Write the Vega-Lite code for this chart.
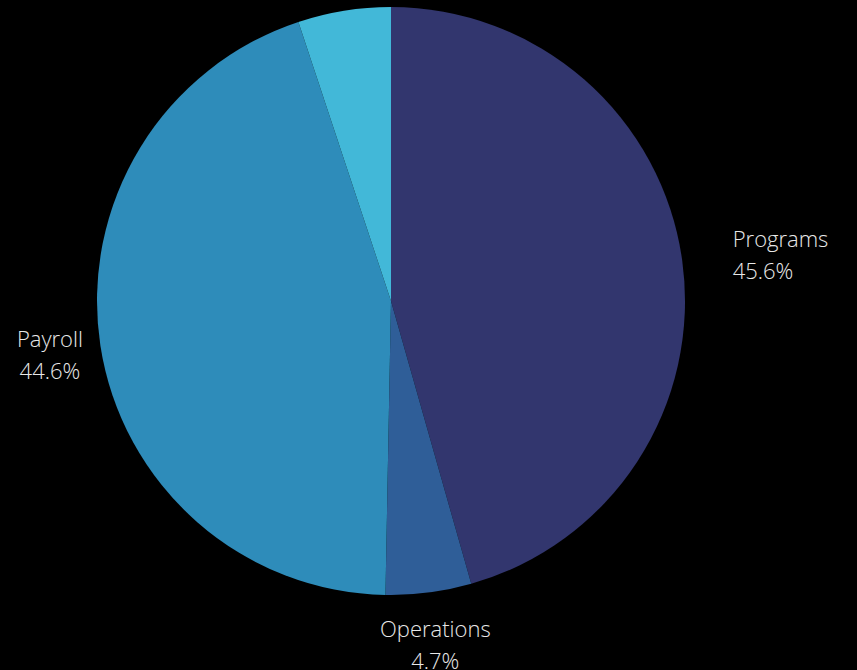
{
  "$schema": "https://vega.github.io/schema/vega-lite/v6.json",
  "width": 782,
  "height": 602,
  "autosize": {"type": "none"},
  "padding": {"left": 0, "top": 0, "right": 75, "bottom": 68},
  "background": "#000000",
  "config": {"view": {"stroke": null}},
  "data": {
    "values": [
      {"idx": 1, "category": "Programs", "share": 45.6},
      {"idx": 2, "category": "Operations", "share": 4.7},
      {"idx": 3, "category": "Payroll", "share": 44.6},
      {"idx": 4, "category": "Other", "share": 5.1}
    ]
  },
  "transform": [{"calculate": "format(datum.share, '.1f') + '%'", "as": "pct"}],
  "encoding": {
    "theta": {"field": "share", "type": "quantitative", "stack": true},
    "order": {"field": "idx", "type": "quantitative"}
  },
  "layer": [
    {
      "mark": {"type": "arc", "outerRadius": 294},
      "encoding": {
        "color": {
          "field": "category",
          "type": "nominal",
          "scale": {
            "domain": ["Programs", "Operations", "Payroll", "Other"],
            "range": ["#32366e", "#2f5e98", "#2e8cba", "#42b8d8"]
          },
          "legend": null
        }
      }
    },
    {
      "mark": {
        "type": "text",
        "radius": 345,
        "dy": -13,
        "font": "Open Sans",
        "fontWeight": 300,
        "fontSize": 22,
        "fill": "#e8e8e8",
        "baseline": "middle",
        "align": {"expr": "datum.category == 'Programs' ? 'left' : 'center'"}
      },
      "encoding": {
        "text": {"field": "category"},
        "opacity": {"condition": {"test": "datum.category == 'Other'", "value": 0}, "value": 1}
      }
    },
    {
      "mark": {
        "type": "text",
        "radius": 345,
        "dy": 19,
        "font": "Open Sans",
        "fontWeight": 300,
        "fontSize": 22,
        "fill": "#e8e8e8",
        "baseline": "middle",
        "align": {"expr": "datum.category == 'Programs' ? 'left' : 'center'"}
      },
      "encoding": {
        "text": {"field": "pct"},
        "opacity": {"condition": {"test": "datum.category == 'Other'", "value": 0}, "value": 1}
      }
    }
  ]
}
